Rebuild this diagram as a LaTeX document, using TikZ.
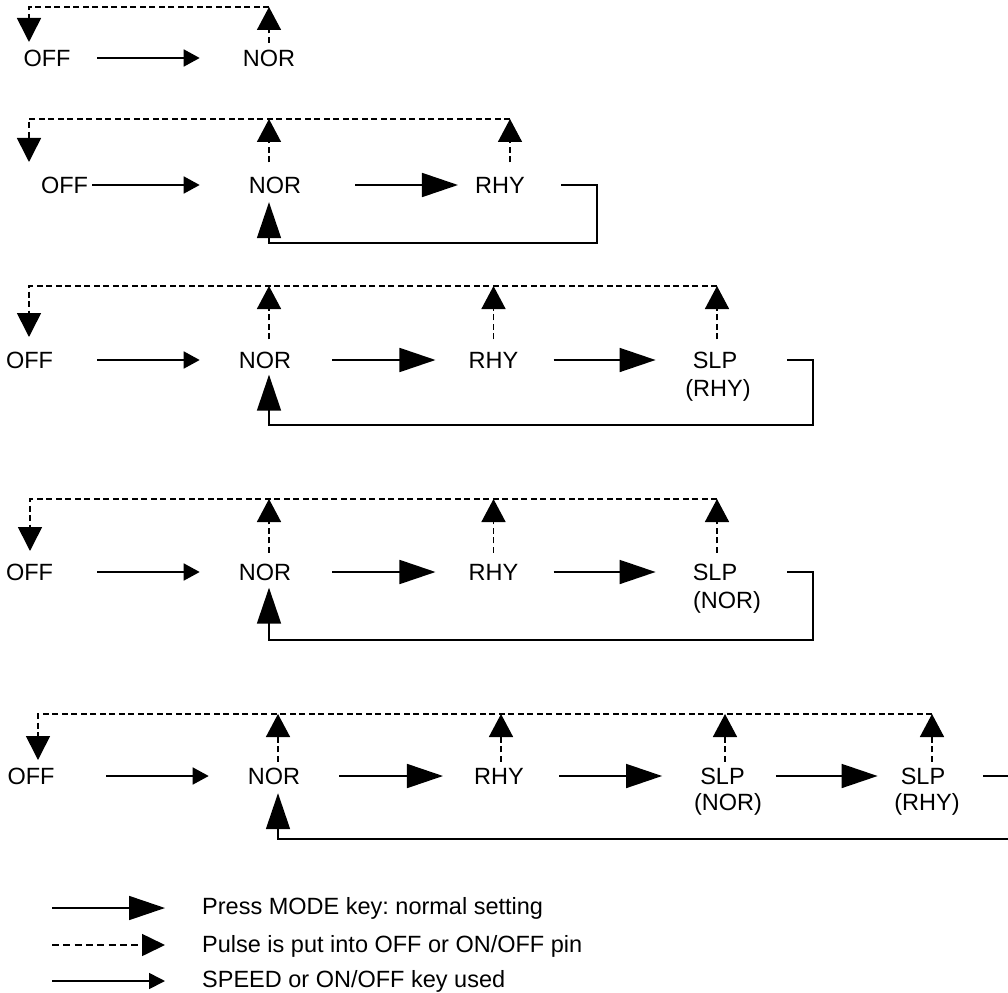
\documentclass[tikz,border=0pt]{standalone}
\usepackage{fontspec}
\setmainfont{Liberation Sans}
\usetikzlibrary{arrows.meta}
\frenchspacing
\tikzset{
  lbl/.style={inner sep=0pt, text height=17pt, text depth=0pt, font=\fontsize{23.5}{28}\selectfont},
  ln/.style={line width=1.7pt},
  dsh/.style={line width=1.6pt, dash pattern=on 6pt off 3.5pt},
  smallarr/.style={ln, -{Triangle[length=16pt,width=17pt]}},
  bigarr/.style={ln, -{Triangle[length=36pt,width=24pt]}},
  uparr/.style={dsh, -{Triangle[length=23pt,width=24pt]}},
  downarr/.style={dsh, -{Triangle[length=24pt,width=24pt]}},
  fbarr/.style={ln, -{Triangle[length=36pt,width=24pt]}},
}
\begin{document}
\begin{tikzpicture}[x=1pt,y=-1pt]
\useasboundingbox (0,0) rectangle (1008,992);
\clip (0,0) rectangle (1008,992);

% ---------------- Row 1
\node[lbl] (o1) at (47,58) {OFF};
\node[lbl] (n1) at (269,58) {NOR};
\coordinate (b1) at (0,7);
\coordinate (t1) at (29,42);
\coordinate (n1u) at ([yshift=6.5pt]n1.north);
\draw[smallarr] ([xshift=26.5pt]o1.east) -- ([xshift=-43pt]n1.west);
\draw[uparr] (n1u) -- (n1u |- b1);
\draw[downarr] (n1u |- b1) -| (t1);

% ---------------- Row 2
\node[lbl] (o2) at (64.5,185) {OFF};
\node[lbl] (n2) at (275,185) {NOR};
\node[lbl] (r2) at (500,185) {RHY};
\coordinate (b2) at (0,119);
\coordinate (t2) at (29,162);
\coordinate (n2u) at ([xshift=-6pt,yshift=14pt]n2.north);
\coordinate (r2u) at ([xshift=10pt,yshift=14pt]r2.north);
\coordinate (c2) at (597,243);
\coordinate (f2) at ([xshift=-6pt,yshift=-8.5pt]n2.south);
\draw[smallarr] ([xshift=4pt]o2.east) -- ([xshift=-49pt]n2.west);
\draw[bigarr] ([xshift=54pt]n2.east) -- ([xshift=-17pt]r2.west);
\draw[uparr] (n2u) -- (n2u |- b2);
\draw[uparr] (r2u) -- (r2u |- b2);
\draw[downarr] (r2u |- b2) -| (t2);
\draw[fbarr] ([xshift=36pt]r2.east) -| (c2) -| (f2);

% ---------------- Row 3
\node[lbl] (o3) at (29.5,360) {OFF};
\node[lbl] (n3) at (265,360) {NOR};
\node[lbl] (r3) at (493.5,360) {RHY};
\node[lbl] (s3) at (715,360) {SLP};
\node[lbl] (s3b) at (718,388) {(RHY)};
\coordinate (b3) at (0,286);
\coordinate (t3) at (29,337);
\coordinate (n3u) at ([xshift=4pt,yshift=12pt]n3.north);
\coordinate (r3u) at ([yshift=12pt]r3.north);
\coordinate (s3u) at ([xshift=2pt,yshift=12pt]s3.north);
\coordinate (c3) at (813,425);
\coordinate (f3) at ([xshift=4pt,yshift=-6pt]n3.south);
\draw[smallarr] ([xshift=44pt]o3.east) -- ([xshift=-39pt]n3.west);
\draw[bigarr] ([xshift=41pt]n3.east) -- ([xshift=-33pt]r3.west);
\draw[bigarr] ([xshift=35pt]r3.east) -- ([xshift=-37pt]s3.west);
\draw[uparr] (n3u) -- (n3u |- b3);
\draw[uparr] (r3u) -- (r3u |- b3);
\draw[uparr] (s3u) -- (s3u |- b3);
\draw[downarr] (s3u |- b3) -| (t3);
\draw[fbarr] ([xshift=50pt]s3.east) -| (c3) -| (f3);

% ---------------- Row 4
\node[lbl] (o4) at (29.5,572) {OFF};
\node[lbl] (n4) at (265,572) {NOR};
\node[lbl] (r4) at (493.5,572) {RHY};
\node[lbl] (s4) at (715,572) {SLP};
\node[lbl] (s4b) at (727,600) {(NOR)};
\coordinate (b4) at (0,499);
\coordinate (t4) at (30,551);
\coordinate (n4u) at ([xshift=4pt,yshift=10.5pt]n4.north);
\coordinate (r4u) at ([yshift=10.5pt]r4.north);
\coordinate (s4u) at ([xshift=2pt,yshift=10.5pt]s4.north);
\coordinate (c4) at (813,640);
\coordinate (f4) at ([xshift=4pt,yshift=-7pt]n4.south);
\draw[smallarr] ([xshift=44pt]o4.east) -- ([xshift=-39pt]n4.west);
\draw[bigarr] ([xshift=41pt]n4.east) -- ([xshift=-33pt]r4.west);
\draw[bigarr] ([xshift=35pt]r4.east) -- ([xshift=-37pt]s4.west);
\draw[uparr] (n4u) -- (n4u |- b4);
\draw[uparr] (r4u) -- (r4u |- b4);
\draw[uparr] (s4u) -- (s4u |- b4);
\draw[downarr] (s4u |- b4) -| (t4);
\draw[fbarr] ([xshift=50pt]s4.east) -| (c4) -| (f4);

% ---------------- Row 5
\node[lbl] (o5) at (31,776) {OFF};
\node[lbl] (n5) at (274,776) {NOR};
\node[lbl] (r5) at (499,776) {RHY};
\node[lbl] (s5) at (722.5,776) {SLP};
\node[lbl] (s5b) at (728,802) {(NOR)};
\node[lbl] (q5) at (923,776) {SLP};
\node[lbl] (q5b) at (927,802) {(RHY)};
\coordinate (b5) at (0,714);
\coordinate (t5) at (38,760);
\coordinate (n5u) at ([xshift=4pt,yshift=5.5pt]n5.north);
\coordinate (r5u) at ([xshift=2pt,yshift=5.5pt]r5.north);
\coordinate (s5u) at ([xshift=2.5pt,yshift=5.5pt]s5.north);
\coordinate (q5u) at ([xshift=9pt,yshift=5.5pt]q5.north);
\coordinate (c5) at (1030,839);
\coordinate (f5) at ([xshift=4pt,yshift=-8.5pt]n5.south);
\draw[smallarr] ([xshift=51.5pt]o5.east) -- ([xshift=-39pt]n5.west);
\draw[bigarr] ([xshift=39pt]n5.east) -- ([xshift=-31pt]r5.west);
\draw[bigarr] ([xshift=35pt]r5.east) -- ([xshift=-38pt]s5.west);
\draw[bigarr] ([xshift=31pt]s5.east) -- ([xshift=-23pt]q5.west);
\draw[uparr] (n5u) -- (n5u |- b5);
\draw[uparr] (r5u) -- (r5u |- b5);
\draw[uparr] (s5u) -- (s5u |- b5);
\draw[uparr] (q5u) -- (q5u |- b5);
\draw[downarr] (q5u |- b5) -| (t5);
\draw[fbarr] ([xshift=38pt]q5.east) -| (c5) -| (f5);

% ---------------- Legend
\coordinate (l1a) at (52,908);
\coordinate (l1b) at (165,908);
\coordinate (l2a) at (52,945);
\coordinate (l2b) at (165,945);
\coordinate (l3a) at (52,981);
\coordinate (l3b) at (165,981);
\draw[bigarr] (l1a) -- (l1b);
\draw[line width=1.6pt, dash pattern=on 7pt off 4.3pt, -{Triangle[length=23pt,width=22pt]}] (l2a) -- (l2b);
\draw[ln, -{Triangle[length=16pt,width=16pt]}] (l3a) -- (l3b);
\node[lbl, anchor=west] (lt1) at (202,906) {Press MODE key: normal setting};
\node[lbl, anchor=west] (lt2) at (202,944) {Pulse is put into OFF or ON/OFF pin};
\node[lbl, anchor=west] (lt3) at (202,979) {SPEED or ON/OFF key used};
\end{tikzpicture}
\end{document}
